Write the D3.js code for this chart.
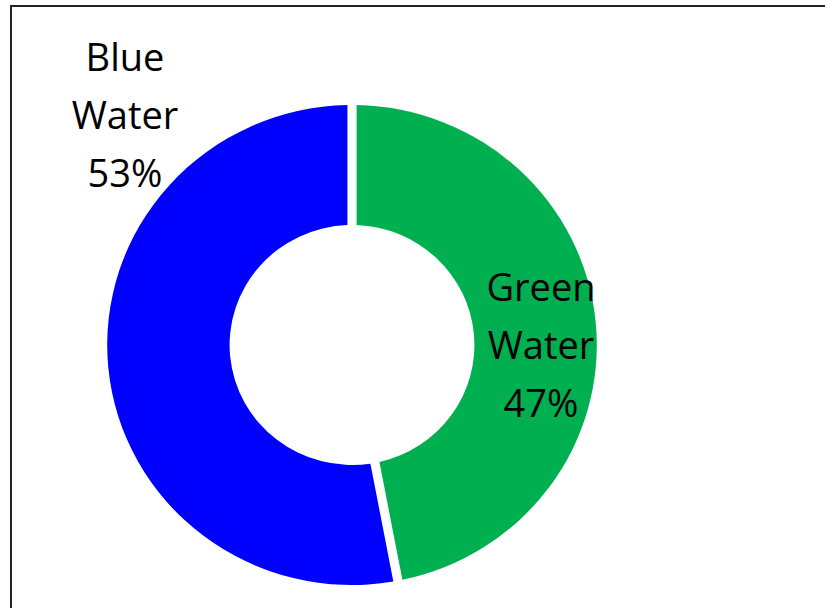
<!DOCTYPE html>
<html>
<head>
<meta charset="utf-8">
<script src="https://cdn.jsdelivr.net/npm/d3@7"></script>
<style>
  html, body { margin: 0; padding: 0; background: #fff; }
  svg { display: block; }
</style>
</head>
<body>
<script>
// Water footprint split
const categories = ["Green Water", "Blue Water"];
const values = [47, 53];
const colors = ["#00B050", "#0000FF"];

const width = 825, height = 608;
const cx = 352, cy = 345;
const outerR = 240, innerR = 120;

const svg = d3.select("body").append("svg")
  .attr("width", width)
  .attr("height", height);

// chart frame (right/bottom run off the page)
svg.append("rect")
  .attr("x", 11).attr("y", 6)
  .attr("width", 840).attr("height", 640)
  .attr("fill", "none")
  .attr("stroke", "#222")
  .attr("stroke-width", 2);

const pie = d3.pie().sort(null).value(d => d);
const arcs = pie(values);

const arc = d3.arc()
  .innerRadius(innerR)
  .outerRadius(outerR)
  .padRadius(outerR)
  .padAngle(9 / outerR);

// slight horizontal stretch, like the source
const g = svg.append("g")
  .attr("transform", `translate(${cx},${cy}) scale(1.02,1)`);

g.selectAll("path.slice")
  .data(arcs)
  .join("path")
  .attr("class", "slice")
  .attr("d", arc)
  .attr("fill", (d, i) => colors[i]);

// labels
const labelPos = [
  { x: 541, y: 301 },
  { x: 125, y: 71 }
];

const lineGap = 58;
arcs.forEach((d, i) => {
  const words = categories[i].split(" ");
  const lines = [...words, `${values[i]}%`];
  const t = svg.append("text")
    .attr("text-anchor", "middle")
    .attr("font-family", "'Open Sans', sans-serif")
    .attr("font-size", 38)
    .attr("fill", "#000");
  lines.forEach((ln, j) => {
    t.append("tspan")
      .attr("x", labelPos[i].x)
      .attr("y", labelPos[i].y + j * lineGap)
      .text(ln);
  });
});
</script>
</body>
</html>
